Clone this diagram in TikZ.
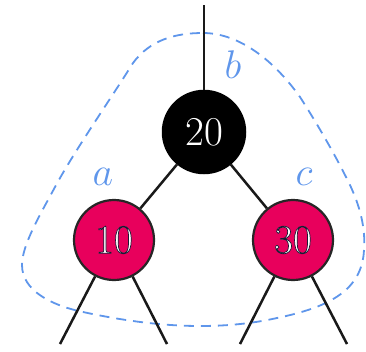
\RequirePackage{fix-cm}
\documentclass[tikz,border=0pt]{standalone}
\definecolor{rbred}{RGB}{232,0,92}
\definecolor{dashblue}{RGB}{95,150,235}
\newcommand{\outlined}[1]{\special{pdf:literal direct q 2 Tr 0.1 0.1 0.2 RG 0.7 w}#1\special{pdf:literal direct Q}}
\tikzset{
  blacknode/.style={circle, fill=black, draw=black, line width=1.5pt, minimum size=83pt, inner sep=0pt, text=white, font=\fontsize{41}{44}\selectfont},
  rednode/.style={circle, fill=rbred, draw=black!85, line width=2.2pt, minimum size=80pt, inner sep=0pt, text=white, font=\fontsize{41}{44}\selectfont},
  edge/.style={line width=2.5pt, black!90},
  lbl/.style={text=dashblue, anchor=base, inner sep=0pt, font=\fontsize{40}{44}\selectfont},
  region/.style={dashblue, line width=1.8pt, dash pattern=on 10pt off 7pt}
}
\begin{document}
\begin{tikzpicture}[x=1pt, y=-1pt]
\useasboundingbox (0,0) rectangle (366,351);
% dashed region
\draw[region] (203,33) .. controls (235,33) and (270,55) .. (300,97)
  .. controls (318,125) and (335,155) .. (346,177)
  .. controls (358,200) and (366,225) .. (364,250)
  .. controls (362,290) and (330,307) .. (277,318)
  .. controls (250,324) and (225,326) .. (200,326)
  .. controls (160,326) and (120,320) .. (83,312)
  .. controls (50,305) and (22,290) .. (22,265)
  .. controls (22,245) and (40,215) .. (55,187)
  .. controls (75,150) and (110,100) .. (133,63)
  .. controls (150,40) and (175,33) .. cycle;
% nodes
\node[blacknode] (n20) at (204,132) {20};
\node[rednode] (n10) at (114,240) {\outlined{10}};
\node[rednode] (n30) at (293,240) {\outlined{30}};
% free ends
\coordinate (top) at (204,5);
\coordinate (l1) at (60,344);
\coordinate (l2) at (167,344);
\coordinate (l3) at (240,344);
\coordinate (l4) at (347,344);
% edges
\draw[edge] (top) -- (n20);
\draw[edge] (n20) -- (n10);
\draw[edge] (n20) -- (n30);
\draw[edge] (n10) -- (l1);
\draw[edge] (n10) -- (l2);
\draw[edge] (n30) -- (l3);
\draw[edge] (n30) -- (l4);
% labels
\node[lbl] (la) at (103,185) {$a$};
\node[lbl] (lb) at (233,78) {$b$};
\node[lbl] (lc) at (304,185) {$c$};
\end{tikzpicture}
\end{document}
